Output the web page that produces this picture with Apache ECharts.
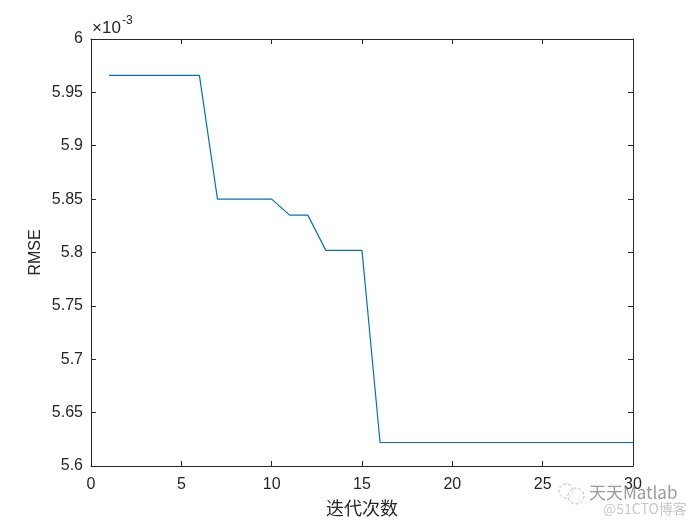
<!DOCTYPE html>
<html><head><meta charset="utf-8">
<script src="https://cdn.jsdelivr.net/npm/echarts@6/dist/echarts.min.js"></script>
<style>html,body{margin:0;padding:0;background:#fff}#c{width:700px;height:525px}</style>
</head><body><div id="c"></div>
<script>
// iterations and RMSE values (in units of 10^-3)
const iterations = [1,2,3,4,5,6,7,8,9,10,11,12,13,14,15,16,17,18,19,20,21,22,23,24,25,26,27,28,29,30];
const rmseE3 = [5.966,5.966,5.966,5.966,5.966,5.966,5.850,5.850,5.850,5.850,5.835,5.835,5.802,5.802,5.802,5.622,5.622,5.622,5.622,5.622,5.622,5.622,5.622,5.622,5.622,5.622,5.622,5.622,5.622,5.622];
const xTicks = [0,5,10,15,20,25,30];
const yTicks = [5.6,5.65,5.7,5.75,5.8,5.85,5.9,5.95,6];
const xLabel = '迭代次数';
const yLabel = 'RMSE';

const txt = '#262626';
const font = 'Arial, "Liberation Sans", Helvetica, sans-serif';
const axCommon = {
  axisLine:{show:true,onZero:false,lineStyle:{color:txt,width:1}},
  axisTick:{show:true,inside:true,length:5,lineStyle:{color:txt}},
  splitLine:{show:false}
};
const chart = echarts.init(document.getElementById('c'),null,{renderer:'canvas'});
chart.setOption({
  backgroundColor:'#fff',
  animation:false,
  grid:{left:91,right:67,top:39,bottom:59,containLabel:false},
  xAxis:[
    Object.assign({type:'value',position:'bottom',min:xTicks[0],max:xTicks[xTicks.length-1],interval:5,
      name:xLabel,nameLocation:'middle',nameGap:33,nameMoveOverlap:false,
      nameTextStyle:{color:txt,fontSize:18,fontFamily:'"Noto Sans CJK SC", sans-serif'},
      axisLabel:{color:txt,fontSize:16,fontFamily:font,margin:11}},axCommon),
    Object.assign({type:'value',position:'top',min:xTicks[0],max:xTicks[xTicks.length-1],interval:5,
      axisLabel:{show:false}},axCommon)
  ],
  yAxis:[
    Object.assign({type:'value',position:'left',min:yTicks[0],max:yTicks[yTicks.length-1],interval:0.05,
      name:yLabel,nameLocation:'middle',nameGap:47,nameRotate:90,nameMoveOverlap:false,
      nameTextStyle:{color:txt,fontSize:16,fontFamily:font},
      axisLabel:{color:txt,fontSize:16,fontFamily:font,margin:8,
        formatter:v=>parseFloat(v.toFixed(2)).toString()}},axCommon),
    Object.assign({type:'value',position:'right',min:yTicks[0],max:yTicks[yTicks.length-1],interval:0.05,
      axisLabel:{show:false}},axCommon)
  ],
  graphic:[
    {type:'text',left:92,top:20,style:{text:'×10',fill:txt,font:'17px '+font}},
    {type:'text',left:122,top:15,style:{text:'-3',fill:txt,font:'12px '+font}},
    {type:'circle',z:100,shape:{cx:566,cy:491,r:7},style:{fill:'none',stroke:'rgba(170,170,170,0.8)',lineWidth:1,lineDash:[3,2]}},
    {type:'circle',z:100,shape:{cx:576,cy:496,r:8},style:{fill:'rgba(255,255,255,0.6)',stroke:'rgba(170,170,170,0.8)',lineWidth:1,lineDash:[3,2]}},
    {type:'text',left:589,top:484,z:100,style:{text:'天天Matlab',fill:'rgba(120,120,120,0.75)',font:'17px "Noto Sans CJK SC", sans-serif'}},
    {type:'text',left:603,top:502,z:100,style:{text:'@51CTO博客',fill:'rgba(190,190,190,0.85)',font:'14px "Noto Sans CJK SC", sans-serif'}}
  ],
  series:[{
    type:'line',xAxisIndex:0,yAxisIndex:0,
    data:iterations.map((x,i)=>[x,rmseE3[i]]),
    showSymbol:false,symbol:'none',
    lineStyle:{color:'#0072BD',width:1.2}
  }]
});
</script></body></html>
